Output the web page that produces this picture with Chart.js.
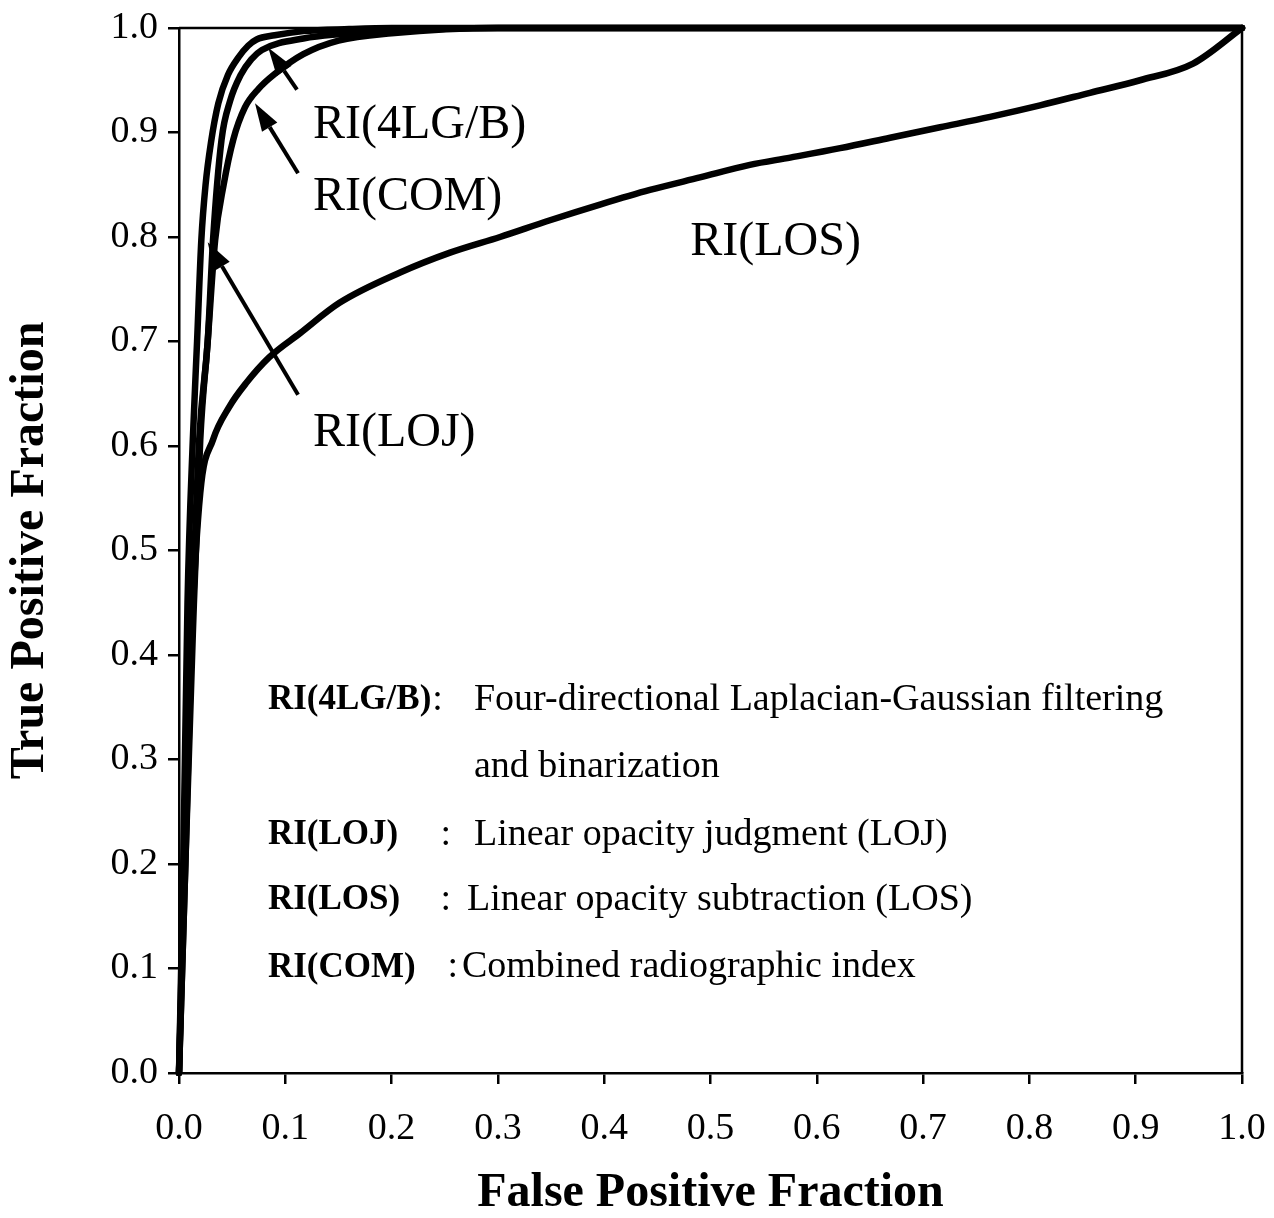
<!DOCTYPE html>
<html>
<head>
<meta charset="utf-8">
<script src="https://cdn.jsdelivr.net/npm/chart.js@4.4.1/dist/chart.umd.min.js"></script>
<style>
  html, body { margin: 0; padding: 0; background: #ffffff; }
  #wrap { width: 1274px; height: 1218px; }
</style>
</head>
<body>
<div id="wrap"><canvas id="roc" width="1274" height="1218"></canvas></div>
<script>
// ROC curves of the radiographic indices (false positive fraction vs true positive fraction)
const xTickLabels = ['0.0', '0.1', '0.2', '0.3', '0.4', '0.5', '0.6', '0.7', '0.8', '0.9', '1.0'];
const yTickLabels = ['0.0', '0.1', '0.2', '0.3', '0.4', '0.5', '0.6', '0.7', '0.8', '0.9', '1.0'];

const seriesNames = ['RI(LOJ)', 'RI(4LG/B)', 'RI(COM)', 'RI(LOS)'];

const lojFpf = [0, 0.004, 0.008, 0.013, 0.017, 0.021, 0.025, 0.030, 0.037, 0.046, 0.056, 0.065, 0.073, 0.090, 0.117, 0.160, 0.200, 1.0];
const lojTpf = [0, 0.20, 0.45, 0.606, 0.700, 0.797, 0.850, 0.890, 0.928, 0.955, 0.972, 0.983, 0.989, 0.993, 0.997, 0.999, 1.0, 1.0];

const lgbFpf = [0, 0.006, 0.012, 0.019, 0.027, 0.032, 0.040, 0.048, 0.058, 0.068, 0.078, 0.117, 0.200, 0.300, 1.0];
const lgbTpf = [0, 0.20, 0.42, 0.606, 0.700, 0.797, 0.893, 0.930, 0.955, 0.970, 0.979, 0.990, 0.997, 1.0, 1.0];

const comFpf = [0, 0.006, 0.013, 0.020, 0.027, 0.034, 0.042, 0.051, 0.062, 0.075, 0.090, 0.117, 0.150, 0.200, 0.300, 1.0];
const comTpf = [0, 0.20, 0.42, 0.606, 0.700, 0.797, 0.850, 0.893, 0.924, 0.942, 0.956, 0.975, 0.988, 0.995, 1.0, 1.0];

const losFpf = [0, 0.005, 0.012, 0.020, 0.032, 0.047, 0.063, 0.085, 0.114, 0.151, 0.208, 0.255, 0.302, 0.349, 0.396, 0.443, 0.490, 0.537, 0.575, 0.622, 0.669, 0.716, 0.763, 0.810, 0.857, 0.904, 0.954, 1.0];
const losTpf = [0, 0.20, 0.42, 0.555, 0.606, 0.637, 0.660, 0.685, 0.708, 0.737, 0.766, 0.785, 0.800, 0.816, 0.831, 0.845, 0.857, 0.869, 0.876, 0.885, 0.895, 0.905, 0.915, 0.926, 0.938, 0.950, 0.966, 1.0];

const toPoints = (xs, ys) => xs.map((v, i) => ({ x: v, y: ys[i] }));

const SERIF = '"Liberation Serif", "Times New Roman", Times, serif';

// curve labels and the arrows pointing at their curves (in data units)
const curveNotes = [
  { text: 'RI(4LG/B)', at: [0.126, 0.907], arrowFrom: [0.111, 0.941], arrowTo: [0.084, 0.981] },
  { text: 'RI(COM)',   at: [0.126, 0.838], arrowFrom: [0.112, 0.861], arrowTo: [0.0715, 0.928] },
  { text: 'RI(LOJ)',   at: [0.126, 0.612], arrowFrom: [0.112, 0.649], arrowTo: [0.027, 0.795] },
  { text: 'RI(LOS)',   at: [0.481, 0.795] }
];

// explanation block
const keyRows = [
  { name: 'RI(4LG/B)', colon: ':', colonX: null, desc: 'Four-directional Laplacian-Gaussian filtering', descX: 0.2775, y: 0.357 },
  { name: '',          colon: '',  colonX: null, desc: 'and binarization', descX: 0.2775, y: 0.293 },
  { name: 'RI(LOJ)',   colon: ':', colonX: 0.2460, desc: 'Linear opacity judgment (LOJ)', descX: 0.2775, y: 0.228 },
  { name: 'RI(LOS)',   colon: ':', colonX: 0.2460, desc: 'Linear opacity subtraction (LOS)', descX: 0.2709, y: 0.166 },
  { name: 'RI(COM)',   colon: ':', colonX: 0.2526, desc: 'Combined radiographic index', descX: 0.2662, y: 0.101 }
];
const keyNameX = 0.0837;

function drawArrow(ctx, x1, y1, x2, y2) {
  const ang = Math.atan2(y2 - y1, x2 - x1);
  const headLen = 28, headHalf = 9;
  const bx = x2 - headLen * Math.cos(ang), by = y2 - headLen * Math.sin(ang);
  ctx.beginPath();
  ctx.moveTo(x1, y1);
  ctx.lineTo(bx, by);
  ctx.lineWidth = 4;
  ctx.strokeStyle = '#000';
  ctx.stroke();
  ctx.beginPath();
  ctx.moveTo(x2, y2);
  ctx.lineTo(bx + headHalf * Math.sin(ang), by - headHalf * Math.cos(ang));
  ctx.lineTo(bx - headHalf * Math.sin(ang), by + headHalf * Math.cos(ang));
  ctx.closePath();
  ctx.fillStyle = '#000';
  ctx.fill();
}

const notesPlugin = {
  id: 'rocNotes',
  afterDatasetsDraw(chart) {
    const { ctx, chartArea: ca, scales: { x, y } } = chart;
    ctx.save();
    // plot frame (top and right edges)
    ctx.strokeStyle = '#000';
    ctx.lineWidth = 2.5;
    ctx.beginPath();
    ctx.moveTo(ca.left, ca.top);
    ctx.lineTo(ca.right, ca.top);
    ctx.lineTo(ca.right, ca.bottom);
    ctx.stroke();

    curveNotes.forEach(n => {
      if (n.arrowFrom) {
        drawArrow(ctx, x.getPixelForValue(n.arrowFrom[0]), y.getPixelForValue(n.arrowFrom[1]),
                       x.getPixelForValue(n.arrowTo[0]), y.getPixelForValue(n.arrowTo[1]));
      }
      ctx.font = '48px ' + SERIF;
      ctx.fillStyle = '#000';
      ctx.textAlign = 'left';
      ctx.textBaseline = 'middle';
      ctx.fillText(n.text, x.getPixelForValue(n.at[0]), y.getPixelForValue(n.at[1]));
    });

    keyRows.forEach(r => {
      const py = y.getPixelForValue(r.y);
      ctx.textAlign = 'left';
      ctx.textBaseline = 'middle';
      ctx.fillStyle = '#000';
      let endX = x.getPixelForValue(keyNameX);
      if (r.name) {
        ctx.font = 'bold 35px ' + SERIF;
        ctx.fillText(r.name, endX, py);
        endX += ctx.measureText(r.name).width;
      }
      ctx.font = '38px ' + SERIF;
      if (r.colon) {
        const cx = r.colonX === null ? endX + 1 : x.getPixelForValue(r.colonX);
        ctx.fillText(r.colon, cx, py);
      }
      ctx.fillText(r.desc, x.getPixelForValue(r.descX), py);
    });
    ctx.restore();
  }
};

const lineStyle = {
  borderColor: '#000',
  borderWidth: 6.5,
  pointRadius: 0,
  pointHoverRadius: 0,
  showLine: true,
  fill: false,
  cubicInterpolationMode: 'monotone',
  borderJoinStyle: 'round',
  borderCapStyle: 'round',
  clip: 8
};

new Chart(document.getElementById('roc'), {
  type: 'scatter',
  data: {
    datasets: [
      Object.assign({ label: seriesNames[0], data: toPoints(lojFpf, lojTpf) }, lineStyle),
      Object.assign({ label: seriesNames[1], data: toPoints(lgbFpf, lgbTpf) }, lineStyle),
      Object.assign({ label: seriesNames[2], data: toPoints(comFpf, comTpf) }, lineStyle),
      Object.assign({ label: seriesNames[3], data: toPoints(losFpf, losTpf) }, lineStyle)
    ]
  },
  options: {
    responsive: false,
    animation: false,
    devicePixelRatio: 1,
    layout: { padding: { top: 28, right: 32, left: 0, bottom: 0 } },
    plugins: {
      legend: { display: false },
      tooltip: { enabled: false },
      title: { display: false }
    },
    scales: {
      x: {
        type: 'linear',
        min: 0, max: 1,
        afterFit: s => { s.height = 145; s.paddingLeft = 0; s.paddingRight = 0; },
        ticks: {
          stepSize: 0.1,
          color: '#000',
          font: { family: SERIF, size: 38 },
          padding: 22,
          maxRotation: 0,
          autoSkip: false,
          callback: (v, i) => xTickLabels[i]
        },
        grid: { display: true, drawOnChartArea: false, drawTicks: true, tickLength: 11, color: '#000', lineWidth: 2.5 },
        border: { display: true, color: '#000', width: 2.5 },
        title: {
          display: true,
          text: 'False Positive Fraction',
          color: '#000',
          font: { family: SERIF, size: 48, weight: 'bold', lineHeight: 1 },
          padding: { top: 0, bottom: 0 }
        }
      },
      y: {
        type: 'linear',
        min: 0, max: 1,
        afterFit: s => { s.width = 179; s.paddingTop = 0; s.paddingBottom = 0; },
        ticks: {
          stepSize: 0.1,
          color: '#000',
          font: { family: SERIF, size: 38 },
          padding: 10,
          autoSkip: false,
          callback: (v, i) => yTickLabels[i]
        },
        grid: { display: true, drawOnChartArea: false, drawTicks: true, tickLength: 11, color: '#000', lineWidth: 2.5 },
        border: { display: true, color: '#000', width: 2.5 },
        title: {
          display: true,
          text: 'True Positive Fraction',
          color: '#000',
          font: { family: SERIF, size: 48, weight: 'bold', lineHeight: 1 },
          padding: { top: 7, bottom: 0 }
        }
      }
    }
  },
  plugins: [notesPlugin]
});
</script>
</body>
</html>
